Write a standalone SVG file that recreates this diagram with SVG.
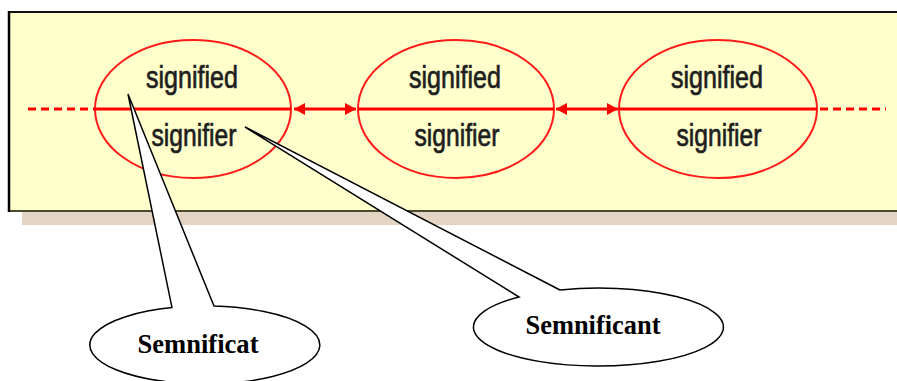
<svg xmlns="http://www.w3.org/2000/svg" width="897" height="381" viewBox="0 0 897 381">
  <style>
    .sign { fill: none; stroke: #ff1a1a; stroke-width: 2; }
    .bar { stroke: #ff0000; stroke-width: 3; }
    .dash { stroke: #ff0000; stroke-width: 3; stroke-dasharray: 8 5; }
    .lbl { font-family: "Liberation Sans", Arial, sans-serif; font-size: 31px; fill: #1e1e1e; stroke: #1e1e1e; stroke-width: 0.7; text-anchor: middle; }
    .callout { fill: #ffffff; stroke: #000000; stroke-width: 1.5; stroke-linejoin: miter; }
    .term { font-family: "Liberation Serif", "Times New Roman", serif; font-weight: bold; fill: #000000; text-anchor: middle; }
  </style>
  <defs>
    <marker id="head" markerUnits="userSpaceOnUse" markerWidth="12" markerHeight="12" refX="11" refY="6" orient="auto-start-reverse">
      <path d="M0,0 L11,6 L0,12 z" fill="#ff0000"/>
    </marker>
  </defs>

  <!-- panel with drop shadow -->
  <g id="panel">
    <rect x="22" y="212" width="875" height="13" fill="#e3d4c4"/>
    <rect x="9" y="12" width="890" height="199" fill="#ffffcc"/>
    <line x1="9" y1="12" x2="897" y2="12" stroke="#111" stroke-width="2"/>
    <line x1="9" y1="211" x2="897" y2="211" stroke="#4a4a30" stroke-width="2"/>
    <line x1="9" y1="11" x2="9" y2="212" stroke="#000" stroke-width="2.5"/>
  </g>

  <!-- chain of signs -->
  <g id="sign1">
    <ellipse class="sign" cx="193" cy="109" rx="98" ry="69"/>
    <line class="bar" x1="95" y1="109" x2="291" y2="109"/>
    <text class="lbl" x="192" y="88" textLength="92" lengthAdjust="spacingAndGlyphs">signified</text>
    <text class="lbl" x="194" y="146" textLength="85" lengthAdjust="spacingAndGlyphs">signifier</text>
  </g>
  <g id="sign2">
    <ellipse class="sign" cx="456" cy="109" rx="98" ry="69"/>
    <line class="bar" x1="358" y1="109" x2="554" y2="109"/>
    <text class="lbl" x="455" y="88" textLength="92" lengthAdjust="spacingAndGlyphs">signified</text>
    <text class="lbl" x="457" y="146" textLength="85" lengthAdjust="spacingAndGlyphs">signifier</text>
  </g>
  <g id="sign3">
    <ellipse class="sign" cx="718" cy="109" rx="99" ry="69"/>
    <line class="bar" x1="619" y1="109" x2="817" y2="109"/>
    <text class="lbl" x="717" y="88" textLength="92" lengthAdjust="spacingAndGlyphs">signified</text>
    <text class="lbl" x="719" y="146" textLength="85" lengthAdjust="spacingAndGlyphs">signifier</text>
  </g>

  <g id="connectors">
    <line class="dash" x1="28" y1="109" x2="95" y2="109"/>
    <line class="dash" x1="820" y1="109" x2="886" y2="109"/>
    <line class="bar" x1="294" y1="109" x2="356" y2="109" marker-start="url(#head)" marker-end="url(#head)"/>
    <line class="bar" x1="556" y1="109" x2="618" y2="109" marker-start="url(#head)" marker-end="url(#head)"/>
  </g>

  <!-- speech-bubble labels -->
  <g id="semnificat">
    <path class="callout" d="M172,307.6 L128,94 L214,306.1 A115,39 0 1 1 172,307.6 Z"/>
    <text class="term" x="198" y="353" font-size="27" textLength="121" lengthAdjust="spacingAndGlyphs">Semnificat</text>
  </g>
  <g id="semnificant">
    <path class="callout" d="M560,290 L245,127 L519,297 A125,39 0 1 0 560,290 Z"/>
    <text class="term" x="593" y="334" font-size="27" textLength="135" lengthAdjust="spacingAndGlyphs">Semnificant</text>
  </g>
</svg>
